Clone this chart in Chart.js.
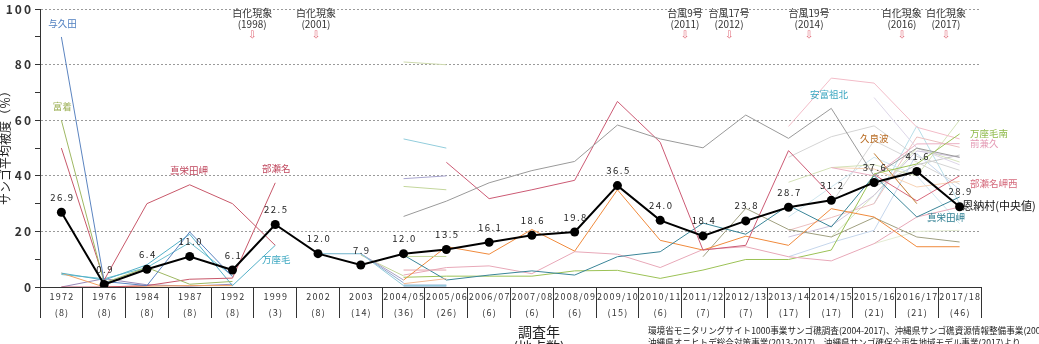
<!DOCTYPE html>
<html><head><meta charset="utf-8">
<script src="https://cdn.jsdelivr.net/npm/chart.js@4.4.1/dist/chart.umd.min.js"></script>
<style>html,body{margin:0;padding:0;background:#fff;}#wrap{width:1039px;height:344px;position:relative;}</style>
</head><body><div id="wrap"><canvas id="c" width="1039" height="344"></canvas></div>
<script>
const _ = null;
const categories = ['1972','1976','1984','1987','1992','1999','2002','2003','2004/05','2005/06','2006/07','2007/08','2008/09','2009/10','2010/11','2011/12','2012/13','2013/14','2014/15','2015/16','2016/17','2017/18'];
const siteCounts = ['(8)','(8)','(8)','(8)','(8)','(3)','(8)','(14)','(36)','(26)','(6)','(6)','(6)','(15)','(6)','(7)','(7)','(17)','(17)','(21)','(21)','(46)'];
const onnaMedian = [26.9,0.9,6.4,11.0,6.1,22.5,12.0,7.9,12.0,13.5,16.1,18.6,19.8,36.5,24.0,18.4,23.8,28.7,31.2,37.6,41.6,28.9];
const yTickValues = [0,20,40,60,80,100];

// individual sites (cover %, null = not surveyed)
const yokuda      = [90,2,0.5,19.8,3.7,_,_,_,_,_,_,_,_,_,_,_,_,_,_,_,_,_];
const fucchaku    = [60,1.5,7,1,2,_,_,_,_,_,_,_,_,_,_,_,_,_,_,_,_,_];
const maedaEarly  = [50,2.5,30,36.8,30,15,_,_,_,_,_,_,_,_,_,_,_,_,_,_,_,_];
const bisena      = [0,0,0.5,2.8,3.2,37.5,_,_,_,_,_,_,_,_,_,_,_,_,_,_,_,_];
const manzamo     = [5,2.5,8,19,0.5,15,_,_,_,_,_,_,_,_,_,_,_,_,_,_,_,_];
const earlyOrange = [5,0,0.3,0.5,0.5,_,_,_,_,_,_,_,_,_,_,_,_,_,_,_,_,_];
const earlyPurple = [0,3,0.8,0.3,1,_,_,_,_,_,_,_,_,_,_,_,_,_,_,_,_,_];
const earlyTeal   = [4.5,3,7,16,4,_,_,_,_,_,_,_,_,_,_,_,_,_,_,_,_,_];
const site02a     = [_,_,_,_,_,_,12,12,0.5,0.5,_,_,_,_,_,_,_,_,_,_,_,_];
const site02b     = [_,_,_,_,_,_,12,12,1.5,_,_,_,_,_,_,_,_,_,_,_,_,_];
const site02c     = [_,_,_,_,_,_,_,12,2.5,_,_,_,_,_,_,_,_,_,_,_,_,_];
const site02d     = [_,_,_,_,_,_,_,11.5,4,_,_,_,_,_,_,_,_,_,_,_,_,_];
const seg05a      = [_,_,_,_,_,_,_,_,81,80,_,_,_,_,_,_,_,_,_,_,_,_];
const seg05b      = [_,_,_,_,_,_,_,_,53.3,50,_,_,_,_,_,_,_,_,_,_,_,_];
const seg05c      = [_,_,_,_,_,_,_,_,39,40,_,_,_,_,_,_,_,_,_,_,_,_];
const seg05d      = [_,_,_,_,_,_,_,_,36.2,35,_,_,_,_,_,_,_,_,_,_,_,_];
const seg05e      = [_,_,_,_,_,_,_,_,11,11,_,_,_,_,_,_,_,_,_,_,_,_];
const seg05f      = [_,_,_,_,_,_,_,_,6.1,6.1,_,_,_,_,_,_,_,_,_,_,_,_];
const seg05g      = [_,_,_,_,_,_,_,_,0.3,0.3,_,_,_,_,_,_,_,_,_,_,_,_];
const seg05h      = [_,_,_,_,_,_,_,_,1.2,3,_,_,_,_,_,_,_,_,_,_,_,_];
const grayLong    = [_,_,_,_,_,_,_,_,25.4,30.9,37.5,41.9,45.2,58.3,53.3,50.1,61.9,53.5,64.3,40,50,46.7];
const redLong     = [_,_,_,_,_,_,_,_,_,44.9,31.8,35,38.4,66.8,52.1,13.3,15,49.1,33,_,_,_];
const maedaLate   = [_,_,_,_,_,_,_,_,11.5,2.5,4.3,5.8,4.3,10.9,12.7,23,19,29.4,21.6,40.1,25.2,32.4];
const orangeLong  = [_,_,_,_,_,_,_,_,2.5,14.5,11.8,20.7,12.9,35,16.8,13.3,18.3,15,28.2,25.2,14.5,14.5];
const pinkLong    = [_,_,_,_,_,_,_,_,4.3,7,7.6,4.8,12.7,11.8,7,13.5,14.5,10.9,9.4,15.6,25.2,28.8];
const manzamoS    = [_,_,_,_,_,_,_,_,3.5,3.9,3.9,3.9,5.8,6,3.1,6.1,9.9,9.9,13.3,40.7,44.3,55.1];
const oliveLine   = [_,_,_,_,_,_,_,_,_,_,_,_,_,_,_,10.9,28.3,20.7,18,25,18,16.2];
const kuraha      = [_,_,_,_,_,_,_,_,_,_,_,_,_,_,_,_,_,_,_,48.1,30,_];
const bisenaWest  = [_,_,_,_,_,_,_,_,_,_,_,_,_,_,_,_,_,_,_,40.5,31,40];
const maeganeku   = [_,_,_,_,_,_,_,_,_,_,_,_,_,_,_,_,_,_,43,40,51.5,51.6];
const lateA       = [_,_,_,_,_,_,_,_,_,_,_,_,_,_,_,_,_,57.8,75.2,73.4,57.5,53.3];
const lateB       = [_,_,_,_,_,_,_,_,_,_,_,_,_,_,_,_,_,46.7,54.1,58,47,42];
const lateC       = [_,_,_,_,_,_,_,_,_,_,_,_,_,_,_,_,_,_,_,68.2,50,44];
const lateD       = [_,_,_,_,_,_,_,_,_,_,_,_,_,_,_,_,_,37.7,43,44,40,60.1];
const lateE       = [_,_,_,_,_,_,_,_,_,_,_,_,_,_,_,_,_,_,43,42.5,36,38];
const lateF       = [_,_,_,_,_,_,_,_,_,_,_,_,_,_,_,_,_,25.2,36,46.7,40,22.8];
const lateG       = [_,_,_,_,_,_,_,_,_,_,_,_,_,_,_,_,_,18,22,33,49,46.7];
const lateH       = [_,_,_,_,_,_,_,_,_,_,_,_,_,_,_,_,_,10.9,16,20.4,48,35];
const lateI       = [_,_,_,_,_,_,_,_,_,_,_,_,_,_,_,_,_,_,30,52.7,45,37];
const lateJ       = [_,_,_,_,_,_,_,_,_,_,_,_,_,_,_,_,_,20.4,25,30,54,50.3];
const lateK       = [_,_,_,_,_,_,_,_,_,_,_,_,_,_,_,_,_,_,_,36,44,47.5];
const lateL       = [_,_,_,_,_,_,_,_,_,_,_,_,_,_,_,_,_,_,_,30,58,30];
const lateM       = [_,_,_,_,_,_,_,_,_,_,_,_,_,_,_,_,_,_,18,33,50,45];
const lateN       = [_,_,_,_,_,_,_,_,_,_,_,_,_,_,_,_,_,_,_,15.6,20,20.4];

const eventLabels = [['白化現象','(1998)'],['白化現象','(2001)'],['台風9号','(2011)'],['台風17号','(2012)'],['台風19号','(2014)'],['白化現象','(2016)'],['白化現象','(2017)']];
const siteLabels = ['与久田','富着','真栄田岬','部瀬名','万座毛','安富祖北','久良波','万座毛南','前兼久','部瀬名岬西','真栄田岬','恩納村(中央値)'];

const F = '"Noto Sans CJK JP","Noto Sans",sans-serif';

function line(data, color, w){
  return {data, borderColor: color, borderWidth: w || 1, pointRadius: 0, fill: false, tension: 0, spanGaps: false};
}
const datasets = [
  {data: onnaMedian, borderColor:'#000', borderWidth:2, pointRadius:4.5, pointBackgroundColor:'#000', pointBorderWidth:0, tension:0},
  line(yokuda,'#5b84c0'), line(fucchaku,'#9fb863'), line(maedaEarly,'#c8586a'), line(bisena,'#c8586a'),
  line(manzamo,'#53b0c8'), line(earlyOrange,'#f2a060'), line(earlyPurple,'#9a88b8'), line(earlyTeal,'#6cbfcf'),
  line(site02a,'#8fc9d8'), line(site02b,'#8ea8cf'), line(site02c,'#a9a0c4'), line(site02d,'#c3d69b'),
  line(seg05a,'#cdd9ad'), line(seg05b,'#92cddc'), line(seg05c,'#a9a6d0'), line(seg05d,'#c3d69b'),
  line(seg05e,'#c3d69b'), line(seg05f,'#e6a5ae'), line(seg05g,'#b9cde5',4), line(seg05h,'#f0b890'),
  line(grayLong,'#9a9a9a'), line(redLong,'#cc5a74'), line(maedaLate,'#3a8598'), line(orangeLong,'#f08a3c'),
  line(pinkLong,'#e8a8b8'), line(manzamoS,'#9cc256'), line(oliveLine,'#a0a080'), line(kuraha,'#c07a30'),
  line(bisenaWest,'#d86a7c'), line(maeganeku,'#eab0c4'),
  line(lateA,'#f3bcc8'), line(lateB,'#d4d4d4'), line(lateC,'#ddd6e8'), line(lateD,'#d4e2b8'),
  line(lateE,'#f7d2b4'), line(lateF,'#cfe6ef'), line(lateG,'#cfc4dd'), line(lateH,'#c5d6ec'),
  line(lateI,'#d6d6d6'), line(lateJ,'#ebbfbf'), line(lateK,'#c4c4c4'), line(lateL,'#b7dee8'),
  line(lateM,'#d7e4bd'), line(lateN,'#e4ecd4')
];

const annot = {
  id: 'annot',
  beforeDraw(chart){ chart.ctx.letterSpacing = '2px'; },
  afterDraw(chart){
    const ctx = chart.ctx, xs = chart.scales.x, ys = chart.scales.y;
    const X = v => xs.getPixelForValue(v), Y = v => ys.getPixelForValue(v);
    ctx.save();
    // x labels
    ctx.fillStyle = '#333'; ctx.textAlign = 'center'; ctx.textBaseline = 'middle';
    ctx.letterSpacing = '1.2px'; ctx.font = '9px ' + F;
    categories.forEach((c,i)=>{ ctx.fillText(c, X(i)+0.6, 297); ctx.fillText(siteCounts[i], X(i)+0.6, 313); });
    // median labels
    ctx.font = '9.5px ' + F; ctx.letterSpacing = '1.5px'; ctx.fillStyle = '#222';
    onnaMedian.forEach((v,i)=>{ ctx.fillText(v.toFixed(1), X(i)+1, Y(v)-15); });
    // event labels
    const evPos = [4.46,5.95,14.58,15.61,17.48,19.65,20.68];
    ctx.letterSpacing = '0px'; ctx.font = '10px ' + F;
    eventLabels.forEach((e,i)=>{
      const x = X(evPos[i]);
      ctx.fillStyle = '#333';
      ctx.fillText(e[0], x, 13); ctx.fillText(e[1], x, 24);
      ctx.fillStyle = '#e06a78'; ctx.font = '10px "DejaVu Sans"';
      ctx.fillText('\u21E9', x, 35);
      ctx.font = '10px ' + F;
    });
    // site labels
    const sp = [[-0.31,95,'#4f7fc0'],[-0.2,64.9,'#9aae52'],[2.54,41.9,'#c0485e'],[4.69,42.7,'#c0485e'],[4.69,10,'#3aa6c0'],
                [17.5,69.2,'#3aa6c0'],[18.67,53.4,'#b86a20'],[21.24,55.2,'#8fba4a'],[21.24,51.6,'#e49ab4'],[21.24,37.3,'#d56a7c'],[20.24,25.1,'#2f7f92'],[21.06,29.4,'#111']];
    ctx.textAlign = 'left';
    siteLabels.forEach((t,i)=>{
      const p = sp[i];
      ctx.fillStyle = p[2];
      ctx.font = (i===11 ? '11px ' : '9.5px ') + F;
      ctx.fillText(t, X(p[0]), Y(p[1]));
    });
    // y title
    ctx.save();
    ctx.translate(5, 145); ctx.rotate(-Math.PI/2);
    ctx.textAlign = 'center'; ctx.fillStyle = '#222'; ctx.font = '12px ' + F;
    ctx.fillText('サンゴ平均被度（％）', 0, 0);
    ctx.restore();
    // x title and footer
    ctx.textAlign = 'center'; ctx.fillStyle = '#222'; ctx.font = '14px ' + F;
    ctx.fillText('調査年', 539, 332);
    ctx.fillText('(地点数)', 539, 347);
    ctx.textAlign = 'left'; ctx.font = '8.6px ' + F; ctx.fillStyle = '#222';
    ctx.fillText('環境省モニタリングサイト1000事業サンゴ礁調査(2004-2017)、沖縄県サンゴ礁資源情報整備事業(2004-2016)', 648, 331);
    ctx.fillText('沖縄県オニヒトデ総合対策事業(2013-2017)、沖縄県サンゴ礁保全再生地域モデル事業(2017)より', 648, 343);
    ctx.restore();
  }
};

new Chart(document.getElementById('c'), {
  type: 'line',
  data: { labels: categories, datasets },
  options: {
    responsive: false, animation: false, devicePixelRatio: 1,
    layout: { padding: { left: 0, right: 58, top: 8, bottom: 0 } },
    plugins: { legend: { display: false }, tooltip: { enabled: false } },
    scales: {
      x: {
        type: 'category', offset: true,
        ticks: { display: false },
        grid: { offset: true, drawOnChartArea: false, drawTicks: true, tickLength: 31, tickColor: '#333', color: '#333' },
        border: { display: true, color: '#333', width: 1 },
        afterFit: s => { s.height = 57; }
      },
      y: {
        min: 0, max: 100,
        ticks: { stepSize: 10, autoSkip: false, padding: 2, color: '#333', font: { size: 12, weight: 'bold', family: F },
                 callback: v => yTickValues.includes(v) ? String(v) : '' },
        grid: { color: c => (c.tick && c.tick.value % 20 === 0 && c.tick.value > 0) ? '#9a9a9a' : 'rgba(0,0,0,0)',
                tickColor: '#333', tickLength: 5, tickBorderDash: [], lineWidth: 1 },
        border: { display: true, color: '#333', width: 1, dash: [2,2] },
        afterFit: s => { s.width = 40; }
      }
    }
  },
  plugins: [annot]
});
</script></body></html>
